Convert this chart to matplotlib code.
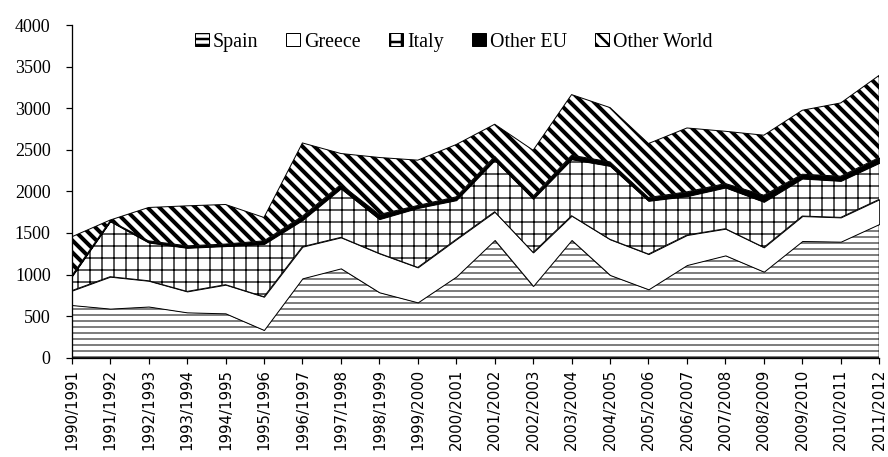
import numpy as np
import matplotlib.pyplot as plt
from matplotlib.patches import Patch

seasons = ["1990/1991", "1991/1992", "1992/1993", "1993/1994", "1994/1995",
           "1995/1996", "1996/1997", "1997/1998", "1998/1999", "1999/2000",
           "2000/2001", "2001/2002", "2002/2003", "2003/2004", "2004/2005",
           "2005/2006", "2006/2007", "2007/2008", "2008/2009", "2009/2010",
           "2010/2011", "2011/2012"]

spain = [633, 590, 615, 545, 533, 333, 954, 1074, 786, 665, 975,
         1415, 862, 1415, 994, 822, 1114, 1230, 1034, 1403, 1395, 1607]
greece = [173, 384, 310, 252, 345, 400, 381, 373, 468, 421, 448,
          340, 404, 292, 429, 424, 361, 321, 293, 300, 292, 297]
italy = [169, 666, 460, 524, 464, 633, 319, 588, 412, 714, 471,
         620, 644, 679, 883, 640, 467, 495, 547, 451, 439, 438]
other_eu = [10, 5, 20, 24, 24, 39, 48, 48, 56, 30, 40,
            45, 32, 48, 48, 40, 52, 48, 80, 52, 56, 65]
other_world = [468, 10, 401, 481, 476, 281, 880, 372, 685, 545, 629,
               387, 552, 729, 653, 649, 768, 628, 721, 769, 881, 988]

names = ["Spain", "Greece", "Italy", "Other EU", "Other World"]
hatches = ["--", "", "+", "", "\\\\"]
faces = ["white", "white", "white", "black", "white"]
hatch_lw = [1.0, 1.0, 1.3, 1.0, 4.0]

# hatch spacing is tied to dpi, 72 gives the right density
DPI = 72
fig = plt.figure(figsize=(888 / DPI, 457 / DPI), dpi=DPI)
ax = fig.add_axes([71.7 / 888, 1 - 357.7 / 457, 807.5 / 888, 332.7 / 457])

x = np.arange(len(seasons))
layers = np.array([spain, greece, italy, other_eu, other_world], dtype=float)
tops = np.cumsum(layers, axis=0)
bottoms = np.vstack([np.zeros(len(x)), tops[:-1]])

for i in range(len(names)):
    plt.rcParams["hatch.linewidth"] = hatch_lw[i]
    coll = ax.fill_between(x, bottoms[i], tops[i], facecolor=faces[i],
                           edgecolor="black", hatch=hatches[i] or None,
                           linewidth=1.0)
    try:
        coll.set_hatch_linewidth(hatch_lw[i])
    except AttributeError:
        pass

ax.set_xlim(0, len(x) - 1)
ax.set_ylim(0, 4000)
ax.set_yticks(range(0, 4001, 500))
ax.set_xticks(x)
ax.set_xticklabels(seasons, rotation=90, family="DejaVu Sans", fontsize=15)
for lab in ax.get_yticklabels():
    lab.set_family("Liberation Serif")
    lab.set_fontsize(18)
ax.tick_params(axis="y", direction="out", length=6, width=1.2, pad=15)
ax.tick_params(axis="x", direction="out", length=6, width=1.2, pad=5)
ax.spines["top"].set_visible(False)
ax.spines["right"].set_visible(False)
ax.spines["left"].set_linewidth(1.3)
ax.spines["bottom"].set_linewidth(1.3)

handles = []
for i in range(len(names)):
    plt.rcParams["hatch.linewidth"] = 1.0 if i != 4 else 2.5
    handles.append(Patch(facecolor=faces[i], edgecolor="black",
                         hatch=hatches[i] or None, linewidth=1.0))
ax.legend(handles, names, loc="center", bbox_to_anchor=(0.473, 0.948),
          ncol=5, frameon=False, prop={"family": "Liberation Serif", "size": 20},
          handlelength=0.7, handleheight=0.65, handletextpad=0.2,
          columnspacing=1.4)

fig.savefig("out.png", dpi=DPI)
